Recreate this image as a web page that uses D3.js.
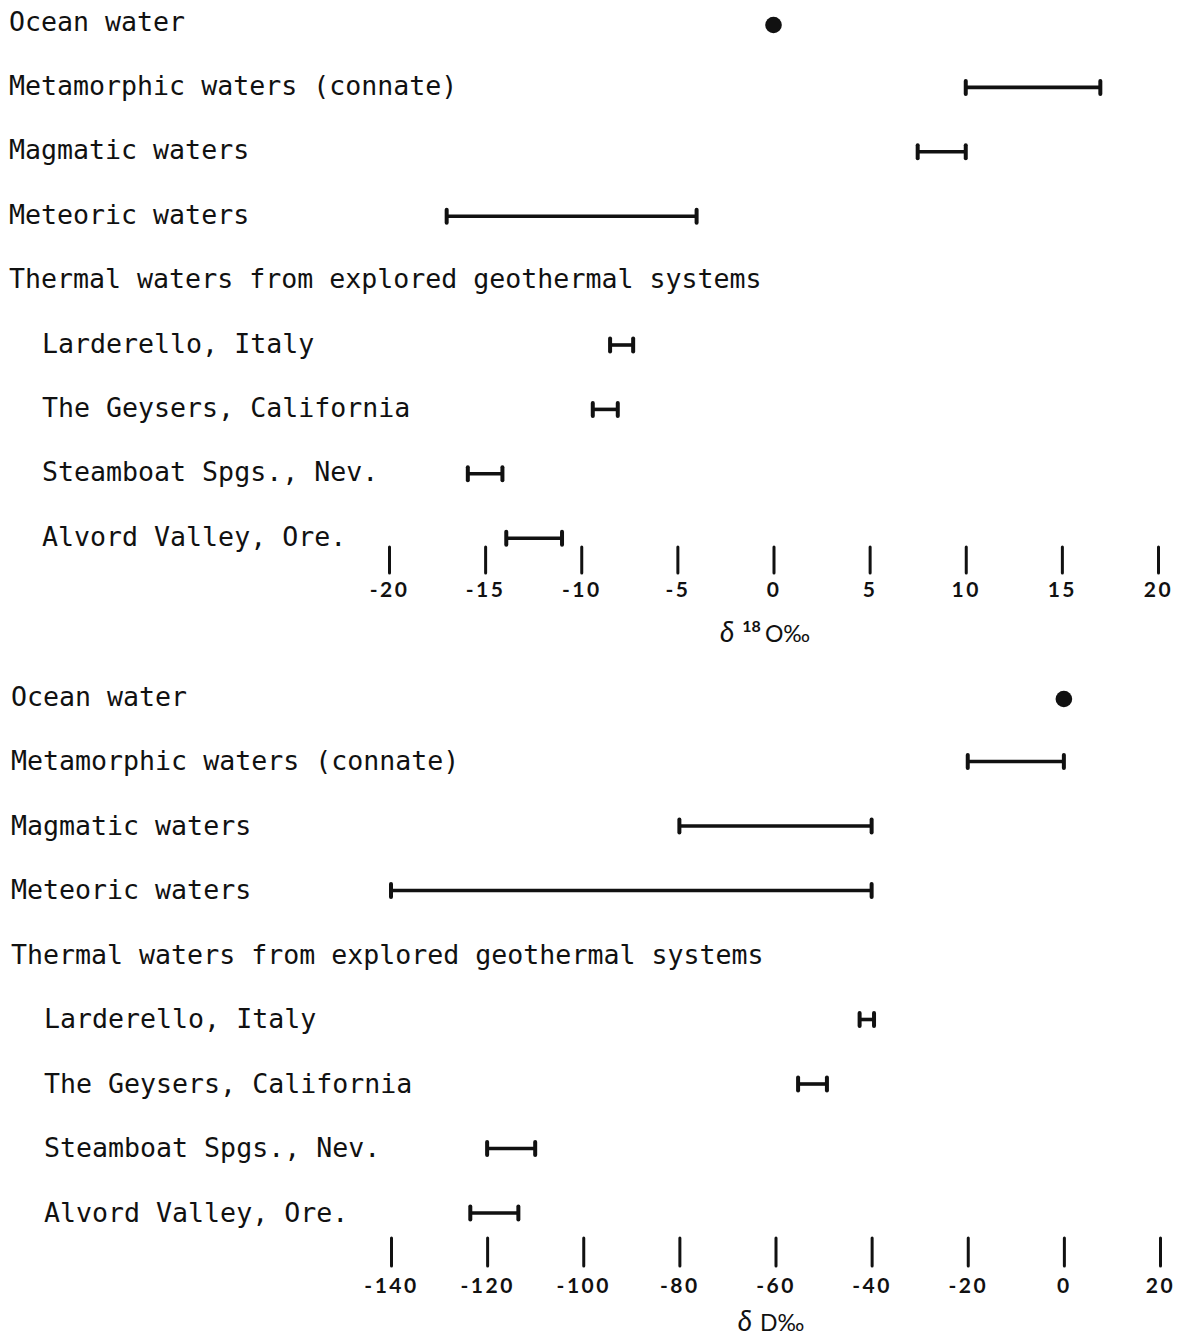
<!DOCTYPE html>
<html>
<head>
<meta charset="utf-8">
<script src="https://cdn.jsdelivr.net/npm/d3@7"></script>
<style>
  html, body { margin: 0; padding: 0; background: #fff; }
  svg { display: block; }
</style>
</head>
<body>
<svg id="chart" width="1182" height="1339"></svg>
<script>
// ---------- DATA ----------
const rowLabels = [
  "Ocean water",
  "Metamorphic waters (connate)",
  "Magmatic waters",
  "Meteoric waters",
  "Thermal waters from explored geothermal systems",
  "Larderello, Italy",
  "The Geysers, California",
  "Steamboat Spgs., Nev.",
  "Alvord Valley, Ore."
];
const rowIndented = [false, false, false, false, false, true, true, true, true];

// delta 18O per mil: range (min, max); null = heading row without data
const o18Min = [0, 10, 7.5, -17, null, -8.5, -9.4, -15.9, -13.9];
const o18Max = [0, 17, 10, -4, null, -7.3, -8.1, -14.1, -11];

// delta D per mil
const dDMin = [0, -20, -80, -140, null, -42.5, -55.3, -120, -123.5];
const dDMax = [0, 0, -40, -40, null, -39.5, -49.3, -110, -113.5];

const o18Ticks = [-20, -15, -10, -5, 0, 5, 10, 15, 20];
const dDTicks = [-140, -120, -100, -80, -60, -40, -20, 0, 20];

// ---------- DRAW ----------
const svg = d3.select("#chart");
const ink = "#111";
const labelFont = "'DejaVu Sans Mono', 'Liberation Mono', monospace";
const axisFont = "Lato, 'DejaVu Sans', sans-serif";

function panel(cfg) {
  const g = svg.append("g");
  const x = d3.scaleLinear().domain(cfg.domain).range(cfg.xRange);
  const y = d3.scalePoint().domain(d3.range(rowLabels.length))
    .range([cfg.row0, cfg.row0 + cfg.step * (rowLabels.length - 1)]);

  // row labels
  g.selectAll("text.lbl").data(rowLabels).join("text")
    .attr("class", "lbl")
    .attr("x", (d, i) => rowIndented[i] ? cfg.indentX : cfg.labelX)
    .attr("y", (d, i) => y(i) + 9.5)
    .attr("font-family", labelFont)
    .attr("font-size", 26.6)
    .attr("fill", ink)
    .text(d => d);

  const rows = d3.range(rowLabels.length)
    .filter(i => cfg.mins[i] !== null)
    .map(i => ({ i, lo: cfg.mins[i], hi: cfg.maxs[i] }));

  const points = rows.filter(r => r.lo === r.hi);
  const ranges = rows.filter(r => r.lo !== r.hi);

  g.selectAll("circle.pt").data(points).join("circle")
    .attr("class", "pt")
    .attr("cx", d => x(d.lo))
    .attr("cy", d => y(d.i) + cfg.barDy + 2)
    .attr("r", 8.3)
    .attr("fill", ink);

  const rg = g.selectAll("g.rng").data(ranges).join("g").attr("class", "rng");
  rg.append("line")
    .attr("x1", d => x(d.lo)).attr("x2", d => x(d.hi))
    .attr("y1", d => y(d.i) + cfg.barDy).attr("y2", d => y(d.i) + cfg.barDy)
    .attr("stroke", ink).attr("stroke-width", 3.6);
  rg.selectAll("line.cap").data(d => [{ v: d.lo, i: d.i }, { v: d.hi, i: d.i }]).join("line")
    .attr("class", "cap")
    .attr("x1", d => x(d.v)).attr("x2", d => x(d.v))
    .attr("y1", d => y(d.i) + cfg.barDy - 6.5).attr("y2", d => y(d.i) + cfg.barDy + 6.5)
    .attr("stroke", ink).attr("stroke-width", 4).attr("stroke-linecap", "round");

  // axis
  const axis = d3.axisBottom(x).tickValues(cfg.ticks)
    .tickSize(cfg.tickLen).tickFormat(d => String(d));
  const ag = g.append("g").attr("transform", `translate(0,${cfg.tickTop})`).call(axis);
  ag.select(".domain").remove();
  ag.selectAll(".tick line")
    .attr("stroke", ink).attr("stroke-width", 3).attr("stroke-linecap", "round");
  ag.selectAll(".tick text")
    .attr("y", cfg.tickLabelBase - cfg.tickTop).attr("dy", null)
    .attr("font-family", axisFont).attr("font-weight", "bold")
    .attr("font-size", 21).attr("letter-spacing", "2.5px")
    .attr("fill", ink);

  // axis title
  const t = g.append("text")
    .attr("x", cfg.titleX).attr("y", cfg.titleBase)
    .attr("text-anchor", "middle")
    .attr("font-family", axisFont).attr("fill", ink);
  t.append("tspan").attr("font-size", 28).attr("font-style", "italic").text("δ");
  if (cfg.sup) {
    t.append("tspan").attr("font-size", 16).attr("font-weight", "bold")
      .attr("dx", 8).attr("dy", -10).text(cfg.sup);
    t.append("tspan").attr("font-size", 23).attr("dx", 4).attr("dy", 10).text(cfg.unit);
  } else {
    t.append("tspan").attr("font-size", 23).attr("dx", 8).text(cfg.unit);
  }
}

panel({
  domain: [-20, 20], xRange: [389, 1158], ticks: o18Ticks,
  mins: o18Min, maxs: o18Max,
  row0: 21, step: 64.4, barDy: 2, labelX: 9, indentX: 42,
  tickTop: 547, tickLen: 26, tickLabelBase: 597,
  titleX: 765, titleBase: 642, sup: "18", unit: "O‰"
});

panel({
  domain: [-140, 20], xRange: [391, 1160], ticks: dDTicks,
  mins: dDMin, maxs: dDMax,
  row0: 696, step: 64.5, barDy: 1, labelX: 11, indentX: 44,
  tickTop: 1238, tickLen: 28, tickLabelBase: 1293,
  titleX: 771, titleBase: 1331, sup: null, unit: "D‰"
});
</script>
</body>
</html>
